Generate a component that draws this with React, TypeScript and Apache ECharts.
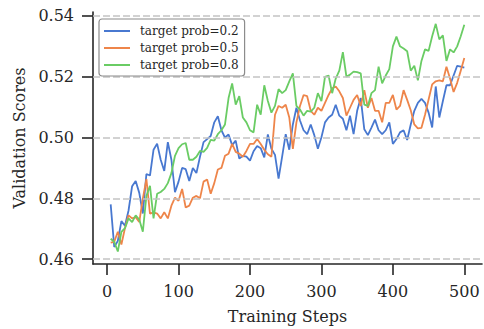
import React, { useEffect, useRef } from "react";
import * as echarts from "echarts";

const steps = [
  5, 10, 15, 20, 25, 30, 35, 40, 45, 50, 55, 60, 65, 70, 75, 80, 85, 90, 95, 100,
  105, 110, 115, 120, 125, 130, 135, 140, 145, 150, 155, 160, 165, 170, 175, 180, 185, 190, 195, 200,
  205, 210, 215, 220, 225, 230, 235, 240, 245, 250, 255, 260, 265, 270, 275, 280, 285, 290, 295, 300,
  305, 310, 315, 320, 325, 330, 335, 340, 345, 350, 355, 360, 365, 370, 375, 380, 385, 390, 395, 400,
  405, 410, 415, 420, 425, 430, 435, 440, 445, 450, 455, 460, 465, 470, 475, 480, 485, 490, 495, 500,
];

const prob02 = [
  0.478, 0.464, 0.466, 0.4725, 0.471, 0.476, 0.484, 0.4857, 0.4818, 0.475,
  0.488, 0.4875, 0.496, 0.498, 0.4927, 0.489, 0.4985, 0.4927, 0.482, 0.4855,
  0.49, 0.4896, 0.4857, 0.49, 0.4883, 0.4937, 0.4985, 0.4995, 0.5005, 0.505,
  0.507, 0.5024, 0.5, 0.501, 0.4975, 0.499, 0.4931, 0.494, 0.4937, 0.4924,
  0.4955, 0.4972, 0.4965, 0.4935, 0.501, 0.4963, 0.4943, 0.4865, 0.4937, 0.5011,
  0.496, 0.5043, 0.5098, 0.5056, 0.5024, 0.5011, 0.5043, 0.5008, 0.4963, 0.5001,
  0.505, 0.5066, 0.5075, 0.5108, 0.5072, 0.5062, 0.5024, 0.5072, 0.5011, 0.5088,
  0.513, 0.5027, 0.5008, 0.5033, 0.5059, 0.5024, 0.5011, 0.5024, 0.505, 0.4979,
  0.4995, 0.5017, 0.5024, 0.4992, 0.5043, 0.5088, 0.5114, 0.5127, 0.5114, 0.5082,
  0.5033, 0.5168, 0.5066, 0.512, 0.5172, 0.5172, 0.5204, 0.5236, 0.5233, 0.523,
];

const prob05 = [
  0.4654, 0.4657, 0.469, 0.4648, 0.4702, 0.4744, 0.4734, 0.4738, 0.4722, 0.4799,
  0.4863, 0.475, 0.4754, 0.475, 0.4734, 0.4754, 0.4734, 0.4776, 0.4802, 0.4792,
  0.4831, 0.477, 0.4776, 0.4802, 0.4808, 0.48, 0.4855, 0.4862, 0.4815, 0.485,
  0.4895, 0.49, 0.494, 0.4947, 0.4979, 0.4953, 0.4947, 0.4937, 0.4956, 0.4979,
  0.4979, 0.4995, 0.4979, 0.496, 0.4945, 0.4937, 0.5075, 0.5104, 0.5098, 0.5108,
  0.5066, 0.4963, 0.505, 0.5104, 0.514, 0.5136, 0.5088, 0.5075, 0.5098, 0.5088,
  0.5114, 0.514, 0.5162, 0.5168, 0.5152, 0.513, 0.5072, 0.5098, 0.5124, 0.514,
  0.5104, 0.5156, 0.5098, 0.513, 0.5088, 0.5088, 0.505, 0.5114, 0.5114, 0.514,
  0.5092, 0.5104, 0.5156, 0.5124, 0.509, 0.5043, 0.503, 0.5032, 0.5075, 0.5125,
  0.5175, 0.5185, 0.5188, 0.5185, 0.5233, 0.5194, 0.515, 0.518, 0.522, 0.5262,
];

const prob08 = [
  0.4667, 0.4657, 0.4625, 0.469, 0.4702, 0.4734, 0.4722, 0.4744, 0.473, 0.469,
  0.4808, 0.4841, 0.4734, 0.4815, 0.4821, 0.4831, 0.485, 0.4883, 0.494, 0.4965,
  0.4978, 0.4982, 0.4927, 0.4927, 0.4937, 0.4956, 0.4953, 0.4966, 0.4992, 0.499,
  0.5011, 0.5024, 0.5043, 0.513, 0.5178, 0.5108, 0.5136, 0.5066, 0.505, 0.5024,
  0.5017, 0.5108, 0.5075, 0.5172, 0.512, 0.5082, 0.5104, 0.5159, 0.5146, 0.5156,
  0.5185, 0.5211, 0.5104, 0.5092, 0.5072, 0.5088, 0.5085, 0.5098, 0.5146, 0.512,
  0.52, 0.5204, 0.5146, 0.5194, 0.522, 0.5281, 0.52, 0.5207, 0.5217, 0.5215,
  0.5211, 0.5108, 0.5104, 0.5146, 0.5156, 0.5233, 0.5178, 0.5204, 0.5225, 0.53,
  0.5332, 0.53, 0.5293, 0.5284, 0.522, 0.5236, 0.5188, 0.5252, 0.529, 0.5285,
  0.5333, 0.5374, 0.5323, 0.5336, 0.5252, 0.529, 0.528, 0.53, 0.5333, 0.5371,
];

const seriesNames = ["target prob=0.2", "target prob=0.5", "target prob=0.8"];
const xTicks = [0, 100, 200, 300, 400, 500];
const yTicks = [0.46, 0.48, 0.5, 0.52, 0.54];

const FONT = "DejaVu Serif";
const TEXT = "#262626";
const COLORS = ["#4878d0", "#ee854a", "#6acc64"];

export default function App() {
  const ref = useRef<HTMLDivElement>(null);
  useEffect(() => {
    if (!ref.current) return;
    const chart = echarts.init(ref.current, null, { renderer: "svg" });
    const allData = [prob02, prob05, prob08];
    const lineSeries = allData.map((vals, i) => ({
      name: seriesNames[i],
      type: "line",
      data: steps.map((s, j) => [s, vals[j]]),
      symbol: "none",
      showSymbol: false,
      z: 3,
      lineStyle: { width: 1.8, color: COLORS[i] },
      itemStyle: { color: COLORS[i] },
    }));
    chart.setOption({
      animation: false,
      backgroundColor: "#ffffff",
      grid: { left: 93, right: 2, top: 12, bottom: 59 },
      legend: {
        data: seriesNames.map((n) => ({ name: n, icon: "rect" })),
        orient: "vertical",
        left: 99,
        top: 19,
        itemWidth: 26,
        itemHeight: 2,
        itemGap: 5,
        padding: [6, 6, 5, 5],
        borderColor: "#8c8c8c",
        borderWidth: 1.2,
        borderRadius: 3,
        backgroundColor: "rgba(255,255,255,0.85)",
        textStyle: { fontFamily: FONT, fontSize: 12, color: TEXT, padding: [0, 0, 0, 5] },
        z: 10,
      },
      xAxis: {
        type: "value",
        min: -19.75,
        max: 524.75,
        name: "Training Steps",
        nameLocation: "middle",
        nameGap: 44,
        nameTextStyle: { fontFamily: FONT, fontSize: 16, color: TEXT },
        axisLine: { show: true, onZero: false, lineStyle: { color: TEXT, width: 1.6 } },
        axisTick: { show: true, length: 11, customValues: xTicks, lineStyle: { color: TEXT, width: 1.6 } },
        axisLabel: {
          customValues: xTicks,
          fontFamily: FONT,
          fontSize: 16,
          color: TEXT,
          margin: 19,
        },
        splitLine: { show: false },
      },
      yAxis: {
        type: "value",
        min: 0.4584,
        max: 0.5413,
        name: "Validation Scores",
        nameLocation: "middle",
        nameGap: 64,
        nameTextStyle: { fontFamily: FONT, fontSize: 16, color: TEXT },
        axisLine: { show: true, onZero: false, lineStyle: { color: TEXT, width: 1.6 } },
        axisTick: { show: true, length: 11, customValues: yTicks, lineStyle: { color: TEXT, width: 1.6 } },
        axisLabel: {
          customValues: yTicks,
          fontFamily: FONT,
          fontSize: 16,
          color: TEXT,
          margin: 19,
          formatter: (v: number) => v.toFixed(2),
        },
        splitLine: { show: false },
      },
      series: [
        {
          name: "grid",
          type: "line",
          data: [],
          z: 1,
          silent: true,
          markLine: {
            silent: true,
            symbol: "none",
            label: { show: false },
            lineStyle: { color: "#c4c4c4", width: 1.6, type: [7, 3] },
            data: yTicks.map((v) => ({ yAxis: v })),
          },
        },
        ...lineSeries,
      ],
    });
    return () => chart.dispose();
  }, []);
  return (
    <div
      ref={ref}
      style={{ position: "fixed", left: 0, top: 0, width: 484, height: 329 }}
    />
  );
}
